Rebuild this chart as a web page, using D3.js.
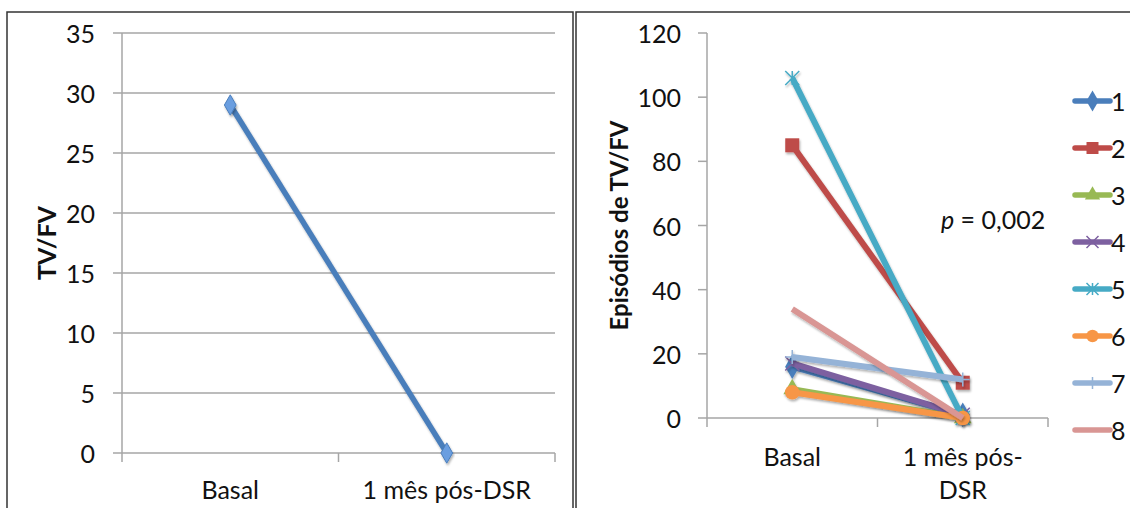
<!DOCTYPE html>
<html>
<head>
<meta charset="utf-8">
<script src="https://cdn.jsdelivr.net/npm/d3@7"></script>
<style>
  body { margin: 0; background: #fff; }
  text { font-family: Lato, "Open Sans", sans-serif; fill: #111; }
</style>
</head>
<body>
<div id="chart"></div>
<script>
// Data
var categories = ["Basal", "1 mês pós-DSR"];
var categoryLines = [["Basal"], ["1 mês pós-", "DSR"]];
var totalValues = [29, 0];
var leftTicks = [0, 5, 10, 15, 20, 25, 30, 35];
var rightTicks = [0, 20, 40, 60, 80, 100, 120];
var patients = ["1", "2", "3", "4", "5", "6", "7", "8"];
var basalValues = [16, 85, 9, 17, 106, 8, 19, 34];
var postValues = [1, 11, 0, 1, 0, 0, 12, 0];
var colors = ["#4a7ebb", "#be4b48", "#98b954", "#7d60a0", "#46aac5", "#f79646", "#95b3d7", "#d99694"];
var markers = ["diamond", "square", "triangle", "x", "star", "circle", "plus", "none"];

var svg = d3.select("#chart")
  .append("svg")
    .attr("width", 1130)
    .attr("height", 508);

// drop shadow like the spreadsheet style
var defs = svg.append("defs");
defs.append("filter").attr("id", "shadow")
    .attr("x", "-20%").attr("y", "-20%").attr("width", "140%").attr("height", "140%")
  .append("feDropShadow")
    .attr("dx", 1).attr("dy", 2).attr("stdDeviation", 1.2)
    .attr("flood-color", "#000").attr("flood-opacity", 0.3);

// panel borders
svg.append("rect").attr("x", 7).attr("y", 12).attr("width", 566).attr("height", 520)
  .attr("fill", "none").attr("stroke", "#333").attr("stroke-width", 1.5);
svg.append("rect").attr("x", 576).attr("y", 12).attr("width", 560).attr("height", 520)
  .attr("fill", "none").attr("stroke", "#333").attr("stroke-width", 1.5);

var grey = "#a6a6a6";
var fontSize = "25px";

// ---------- Left chart ----------
var xL = d3.scaleBand().domain(categories).range([122, 555]);
var yL = d3.scaleLinear().domain([0, 35]).range([453, 33]);

var left = svg.append("g");

// gridlines
left.selectAll(".grid")
  .data(leftTicks)
  .enter().append("line")
    .attr("x1", 113).attr("x2", xL.range()[1])
    .attr("y1", d => yL(d)).attr("y2", d => yL(d))
    .attr("stroke", grey).attr("stroke-width", 1.5);

// y axis line
left.append("line")
  .attr("x1", xL.range()[0]).attr("x2", xL.range()[0])
  .attr("y1", yL(35)).attr("y2", yL(0))
  .attr("stroke", grey).attr("stroke-width", 1.5);

// category boundary ticks
var leftBounds = categories.map(c => xL(c)).concat([xL.range()[1]]);
left.selectAll(".xtick")
  .data(leftBounds)
  .enter().append("line")
    .attr("x1", d => d).attr("x2", d => d)
    .attr("y1", yL(0)).attr("y2", yL(0) + 9)
    .attr("stroke", grey).attr("stroke-width", 1.5);

left.selectAll(".ylab")
  .data(leftTicks)
  .enter().append("text")
    .attr("x", 95)
    .attr("y", d => yL(d))
    .attr("dy", "0.4em")
    .attr("text-anchor", "end")
    .style("font-size", fontSize)
    .text(d => d);

left.selectAll(".xlab")
  .data(categories)
  .enter().append("text")
    .attr("x", d => xL(d) + xL.bandwidth() / 2)
    .attr("y", 499)
    .attr("text-anchor", "middle")
    .style("font-size", fontSize)
    .text(d => d);

left.append("text")
  .attr("transform", "translate(56," + (yL(17.5)) + ") rotate(-90)")
  .attr("text-anchor", "middle")
  .style("font-size", fontSize)
  .style("font-weight", "bold")
  .text("TV/FV");

var totalData = categories.map((c, i) => ({cat: c, v: totalValues[i]}));
left.append("path")
  .datum(totalData)
  .attr("fill", "none")
  .attr("stroke", "#4a7ebb")
  .attr("stroke-width", 5.5)
  .attr("filter", "url(#shadow)")
  .attr("d", d3.line()
    .x(d => xL(d.cat) + xL.bandwidth() / 2)
    .y(d => yL(d.v)));

left.selectAll(".dot")
  .data(totalData)
  .enter().append("path")
    .attr("transform", d => "translate(" + (xL(d.cat) + xL.bandwidth() / 2) + "," + yL(d.v) + ")")
    .attr("d", d3.symbol().type(d3.symbolDiamond).size(120))
    .attr("fill", "#6a9ee0")
    .attr("stroke", "#4a7ebb")
    .attr("stroke-width", 1)
    .attr("filter", "url(#shadow)");

// ---------- Right chart ----------
var xR = d3.scaleBand().domain(categories).range([707, 1048]);
var yR = d3.scaleLinear().domain([0, 120]).range([418, 33]);

var right = svg.append("g");

right.append("line")
  .attr("x1", xR.range()[0]).attr("x2", xR.range()[0])
  .attr("y1", yR(120)).attr("y2", yR(0))
  .attr("stroke", grey).attr("stroke-width", 1.5);
right.append("line")
  .attr("x1", xR.range()[0]).attr("x2", xR.range()[1])
  .attr("y1", yR(0)).attr("y2", yR(0))
  .attr("stroke", grey).attr("stroke-width", 1.5);

right.selectAll(".ytick")
  .data(rightTicks)
  .enter().append("line")
    .attr("x1", 698).attr("x2", xR.range()[0])
    .attr("y1", d => yR(d)).attr("y2", d => yR(d))
    .attr("stroke", grey).attr("stroke-width", 1.5);

var rightBounds = categories.map(c => xR(c)).concat([xR.range()[1]]);
right.selectAll(".xtick")
  .data(rightBounds)
  .enter().append("line")
    .attr("x1", d => d).attr("x2", d => d)
    .attr("y1", yR(0)).attr("y2", yR(0) + 9)
    .attr("stroke", grey).attr("stroke-width", 1.5);

right.selectAll(".ylab")
  .data(rightTicks)
  .enter().append("text")
    .attr("x", 681)
    .attr("y", d => yR(d))
    .attr("dy", "0.4em")
    .attr("text-anchor", "end")
    .style("font-size", fontSize)
    .text(d => d);

right.selectAll(".xlab")
  .data(categories)
  .enter().append("text")
    .attr("x", d => xR(d) + xR.bandwidth() / 2)
    .attr("y", 466)
    .attr("text-anchor", "middle")
    .style("font-size", fontSize)
    .each(function(d, i) {
      var t = d3.select(this);
      categoryLines[i].forEach((line, j) => {
        t.append("tspan")
          .attr("x", xR(d) + xR.bandwidth() / 2)
          .attr("dy", j === 0 ? 0 : 33)
          .text(line);
      });
    });

right.append("text")
  .attr("transform", "translate(628," + yR(60) + ") rotate(-90)")
  .attr("text-anchor", "middle")
  .style("font-size", "24px")
  .style("font-weight", "bold")
  .text("Episódios de TV/FV");

var pText = right.append("text")
  .attr("x", 941).attr("y", 229)
  .style("font-size", fontSize);
pText.append("tspan").style("font-style", "italic").text("p");
pText.append("tspan").text(" = 0,002");

// marker drawing
function drawMarker(g, type, color, size) {
  var s = size;
  if (type === "diamond") {
    g.append("path").attr("d", d3.symbol().type(d3.symbolDiamond).size(s * s * 0.9)())
      .attr("fill", color);
  } else if (type === "square") {
    g.append("path").attr("d", d3.symbol().type(d3.symbolSquare).size(s * s)())
      .attr("fill", color);
  } else if (type === "triangle") {
    g.append("path").attr("d", d3.symbol().type(d3.symbolTriangle).size(s * s * 0.7)())
      .attr("fill", color);
  } else if (type === "circle") {
    g.append("path").attr("d", d3.symbol().type(d3.symbolCircle).size(s * s * 0.85)())
      .attr("fill", color);
  } else if (type === "x") {
    var h = s / 2;
    g.append("path").attr("d", "M" + -h + "," + -h + "L" + h + "," + h + "M" + -h + "," + h + "L" + h + "," + -h)
      .attr("stroke", color).attr("stroke-width", 1.5).attr("fill", "none");
  } else if (type === "star") {
    var h2 = s / 2;
    g.append("path").attr("d", "M" + -h2 + "," + -h2 + "L" + h2 + "," + h2 + "M" + -h2 + "," + h2 + "L" + h2 + "," + -h2 + "M0," + -h2 + "L0," + h2)
      .attr("stroke", color).attr("stroke-width", 1.5).attr("fill", "none");
  } else if (type === "plus") {
    var h3 = s / 2;
    g.append("path").attr("d", "M" + -h3 + ",0L" + h3 + ",0M0," + -h3 + "L0," + h3)
      .attr("stroke", color).attr("stroke-width", 1.5).attr("fill", "none");
  }
}

var seriesData = patients.map((p, i) => ({
  name: p,
  color: colors[i],
  marker: markers[i],
  values: [{cat: categories[0], v: basalValues[i]}, {cat: categories[1], v: postValues[i]}]
}));

var lineR = d3.line()
  .x(d => xR(d.cat) + xR.bandwidth() / 2)
  .y(d => yR(d.v));

seriesData.forEach(s => {
  var g = right.append("g").attr("filter", "url(#shadow)");
  g.append("path")
    .datum(s.values)
    .attr("fill", "none")
    .attr("stroke", s.color)
    .attr("stroke-width", 6)
    .attr("d", lineR);
  s.values.forEach(d => {
    var m = g.append("g")
      .attr("transform", "translate(" + (xR(d.cat) + xR.bandwidth() / 2) + "," + yR(d.v) + ")");
    drawMarker(m, s.marker, s.color, 14);
  });
});

// legend
var legend = right.selectAll(".legend")
  .data(seriesData)
  .enter().append("g")
    .attr("transform", (d, i) => "translate(1075," + (101 + i * 47) + ")");

legend.append("line")
  .attr("x1", 0).attr("x2", 35)
  .attr("stroke", d => d.color)
  .attr("stroke-width", 5.5)
  .attr("stroke-linecap", "round");

legend.each(function(d) {
  var m = d3.select(this).append("g").attr("transform", "translate(17.5,0)");
  drawMarker(m, d.marker, d.color, 12);
});

legend.append("text")
  .attr("x", 36)
  .attr("dy", "0.38em")
  .style("font-size", fontSize)
  .text(d => d.name);
</script>
</body>
</html>
